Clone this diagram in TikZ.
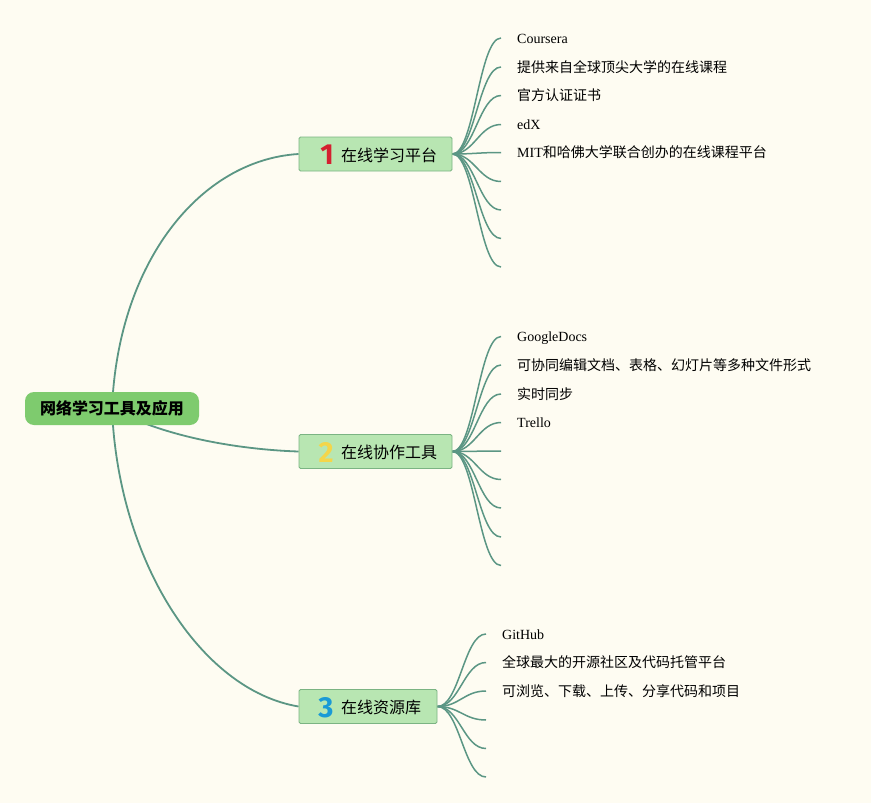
\documentclass[tikz,border=0pt]{standalone}
\usepackage{fontspec}
\setmainfont{Liberation Serif}
\newfontfamily\cjk{Noto Sans CJK SC}
\newfontfamily\numfont{Fira Sans}
\usetikzlibrary{positioning}
\definecolor{bgc}{HTML}{FEFCF2}
\definecolor{linec}{HTML}{5B9684}
\definecolor{brfill}{HTML}{B8E6B2}
\definecolor{brdraw}{HTML}{7BB483}
\definecolor{rootfill}{HTML}{7ECB6E}
\definecolor{nred}{HTML}{D42030}
\definecolor{nyel}{HTML}{F4D64A}
\definecolor{nblue}{HTML}{1A9AD6}
\pgfdeclarelayer{bg}
\pgfdeclarelayer{edges}
\pgfsetlayers{bg,edges,main}
\tikzset{
  rootbox/.style={rectangle, rounded corners=9pt, fill=rootfill, minimum width=174pt, minimum height=33pt, inner sep=0pt, font=\cjk\bfseries\fontsize{16}{18}\selectfont},
  brbox/.style={rectangle, rounded corners=1.5pt, fill=brfill, draw=brdraw, line width=0.9pt, minimum height=34pt, inner sep=0pt},
  brtext/.style={anchor=west, inner sep=0pt, font=\cjk\fontsize{16}{18}\selectfont},
  numtext/.style={inner sep=0pt, font=\numfont\bfseries\fontsize{29}{30}\selectfont},
  leaf/.style={anchor=base west, inner sep=0pt, xshift=16pt, yshift=-5pt, font=\fontsize{14}{16}\selectfont},
  mainedge/.style={draw=linec, line width=1.8pt},
  leafedge/.style={draw=linec, line width=1.5pt},
}
\begin{document}
\begin{tikzpicture}[x=1pt,y=-1pt]
\begin{pgfonlayer}{bg}
\fill[bgc] (0,0) rectangle (871,803);
\end{pgfonlayer}
\useasboundingbox (0,0) rectangle (871,803);

% root
\node[rootbox] (root) at (112,408.5) {网络学习工具及应用};

% branches
\node[brbox, minimum width=153pt] (b1) at (375.5,154) {};
\node[numtext, text=nred] (n1) at (327,155) {1};
\node[brtext] (t1) at (341,155) {在线学习平台};

\node[brbox, minimum width=153pt] (b2) at (375.5,451.5) {};
\node[numtext, text=nyel] (n2) at (326,452.5) {2};
\node[brtext] (t2) at (341,452.5) {在线协作工具};

\node[brbox, minimum width=138pt] (b3) at (368,706.5) {};
\node[numtext, text=nblue] (n3) at (326,707.5) {3};
\node[brtext] (t3) at (341,707.5) {在线资源库};

% leaf endpoints branch 1
\coordinate (a1) at (501,38);
\coordinate (a2) at (501,67);
\coordinate (a3) at (501,95.5);
\coordinate (a4) at (501,124.5);
\coordinate (a5) at (501,152.5);
\coordinate (a6) at (501,181.5);
\coordinate (a7) at (501,210);
\coordinate (a8) at (501,238.5);
\coordinate (a9) at (501,267);
\node[leaf] (ta1) at (a1) {Coursera};
\node[leaf] (ta2) at (a2) {\cjk 提供来自全球顶尖大学的在线课程};
\node[leaf] (ta3) at (a3) {\cjk 官方认证证书};
\node[leaf] (ta4) at (a4) {edX};
\node[leaf] (ta5) at (a5) {MIT{\cjk 和哈佛大学联合创办的在线课程平台}};

% leaf endpoints branch 2
\coordinate (c1) at (501,336.5);
\coordinate (c2) at (501,365);
\coordinate (c3) at (501,394);
\coordinate (c4) at (501,422.5);
\coordinate (c5) at (501,451);
\coordinate (c6) at (501,479.5);
\coordinate (c7) at (501,508);
\coordinate (c8) at (501,537);
\coordinate (c9) at (501,565.5);
\node[leaf] (tc1) at (c1) {GoogleDocs};
\node[leaf] (tc2) at (c2) {\cjk 可协同编辑文档、表格、幻灯片等多种文件形式};
\node[leaf] (tc3) at (c3) {\cjk 实时同步};
\node[leaf] (tc4) at (c4) {Trello};

% leaf endpoints branch 3
\coordinate (d1) at (486,634);
\coordinate (d2) at (486,662.5);
\coordinate (d3) at (486,691);
\coordinate (d4) at (486,720);
\coordinate (d5) at (486,748.5);
\coordinate (d6) at (486,777);
\node[leaf] (td1) at (d1) {GitHub};
\node[leaf] (td2) at (d2) {\cjk 全球最大的开源社区及代码托管平台};
\node[leaf] (td3) at (d3) {\cjk 可浏览、下载、上传、分享代码和项目};

\begin{pgfonlayer}{edges}
\draw[mainedge] (root.center) .. controls (118,262) and (200,160) .. (b1.west);
\draw[mainedge] (root.center) .. controls (170,440) and (250,450) .. (b2.west);
\draw[mainedge] (root.center) .. controls (118,560) and (200,690) .. (b3.west);
\foreach \i in {1,...,9} {
  \draw[leafedge] (b1.east) .. controls +(22,0) and +(-22,0) .. (a\i);
  \draw[leafedge] (b2.east) .. controls +(22,0) and +(-22,0) .. (c\i);
}
\foreach \i in {1,...,6} {
  \draw[leafedge] (b3.east) .. controls +(22,0) and +(-22,0) .. (d\i);
}
\end{pgfonlayer}
\end{tikzpicture}
\end{document}
